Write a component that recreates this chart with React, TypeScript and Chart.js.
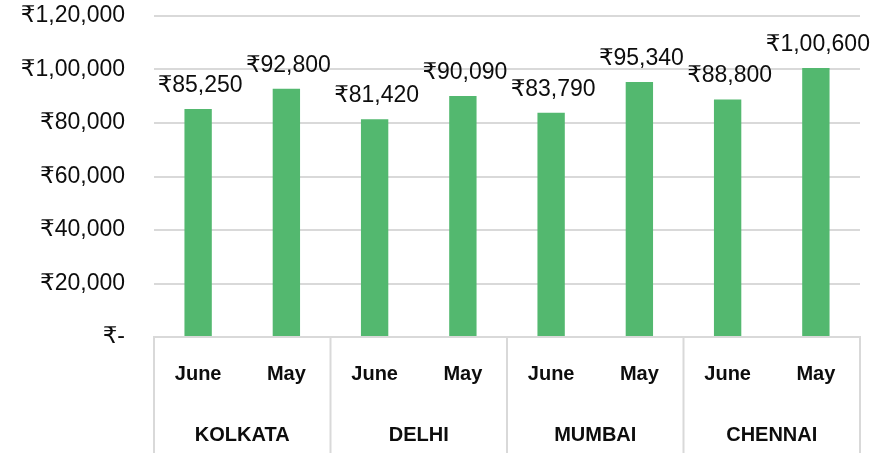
import React, { useEffect, useRef } from "react";
import { Chart, registerables } from "chart.js";

Chart.register(...registerables);

const cities = ["KOLKATA", "DELHI", "MUMBAI", "CHENNAI"];
const months = ["June", "May"];
const labels = ["June", "May", "June", "May", "June", "May", "June", "May"];
const values = [85250, 92800, 81420, 90090, 83790, 95340, 88800, 100600];
const yTicks = [0, 20000, 40000, 60000, 80000, 100000, 120000];

const BAR = "#53B86F";
const GRID = "#d9d9d9";
const TEXT = "#0d0d0d";
const FONT = "'Liberation Sans', Arial, 'DejaVu Sans', sans-serif";

function inr(v: number): string {
  if (v === 0) return "₹-";
  const s = String(Math.round(v));
  const last3 = s.slice(-3);
  const rest = s.slice(0, -3);
  const restF = rest.replace(/\B(?=(\d{2})+(?!\d))/g, ",");
  return "₹" + (rest ? restF + "," + last3 : last3);
}

const overlay = {
  id: "overlay",
  afterDraw(chart: any) {
    const ctx = chart.ctx;
    const x = chart.scales.x;
    const area = chart.chartArea;
    const meta = chart.getDatasetMeta(0);
    ctx.save();
    // data labels
    ctx.font = `23px ${FONT}`;
    ctx.fillStyle = TEXT;
    ctx.textAlign = "center";
    ctx.textBaseline = "alphabetic";
    meta.data.forEach((bar: any, i: number) => {
      ctx.fillText(inr(values[i]), bar.x + 2, bar.y - 17);
    });
    // separators
    const half = (x.getPixelForValue(1) - x.getPixelForValue(0)) / 2;
    ctx.strokeStyle = GRID;
    ctx.lineWidth = 2;
    for (let g = 0; g <= cities.length; g++) {
      const px = x.getPixelForValue(g * months.length) - half;
      ctx.beginPath();
      ctx.moveTo(px, area.bottom);
      ctx.lineTo(px, chart.height);
      ctx.stroke();
    }
    // city labels
    ctx.font = `bold 20px ${FONT}`;
    ctx.textBaseline = "middle";
    cities.forEach((c, g) => {
      const cx =
        (x.getPixelForValue(g * 2) + x.getPixelForValue(g * 2 + 1)) / 2;
      ctx.fillText(c, cx, 435);
    });
    ctx.restore();
  },
};

export default function App() {
  const ref = useRef<HTMLCanvasElement | null>(null);
  useEffect(() => {
    document.body.style.margin = "0";
    const chart = new Chart(ref.current as HTMLCanvasElement, {
      type: "bar",
      data: {
        labels,
        datasets: [
          {
            data: values,
            backgroundColor: BAR,
            barPercentage: 0.31,
            categoryPercentage: 1,
          },
        ],
      },
      options: {
        animation: false,
        responsive: false,
        maintainAspectRatio: false,
        layout: { padding: { top: 16, right: 25, left: 0, bottom: 0 } },
        plugins: { legend: { display: false }, tooltip: { enabled: false } },
        scales: {
          x: {
            grid: { display: false },
            border: { display: true, color: GRID, width: 2 },
            ticks: {
              color: TEXT,
              font: { family: FONT, size: 20, weight: "bold" },
              padding: 17,
              maxRotation: 0,
              autoSkip: false,
            },
            afterFit(scale: any) {
              scale.height = 116;
              scale.paddingLeft = 0;
              scale.paddingRight = 0;
            },
          },
          y: {
            min: 0,
            max: 120000,
            afterBuildTicks(scale: any) {
              scale.ticks = yTicks.map((v) => ({ value: v }));
            },
            grid: { color: GRID, lineWidth: 2, drawTicks: false },
            border: { display: false },
            ticks: {
              color: TEXT,
              font: { family: FONT, size: 23 },
              padding: 29,
              callback: (v: any) => inr(Number(v)),
            },
            afterFit(scale: any) {
              scale.width = 154;
              scale.paddingTop = 0;
              scale.paddingBottom = 0;
            },
          },
        },
      },
      plugins: [overlay],
    } as any);
    return () => chart.destroy();
  }, []);
  return <canvas ref={ref} width={885} height={453} style={{ display: "block" }} />;
}
